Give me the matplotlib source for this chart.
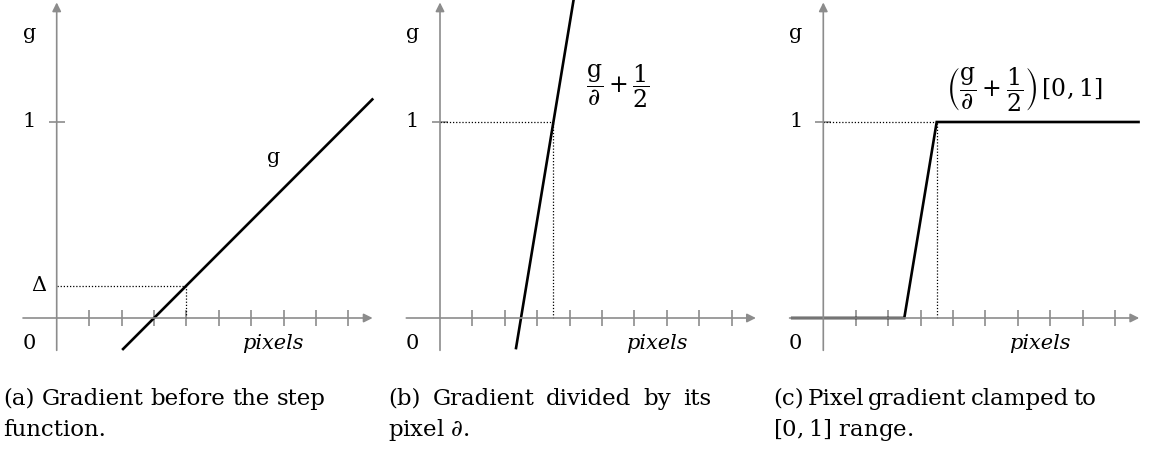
import matplotlib.pyplot as plt
import numpy as np

plt.rcParams["font.family"] = ["DejaVu Serif"]
plt.rcParams["mathtext.fontset"] = "dejavuserif"

W, H = 1150, 451
PX_X = 32.4      # pixels per x unit
PX_Y = 196.0     # pixels per y unit
XLIM = (-1.2, 9.9)
YLIM = (-0.18, 1.62)
ORIGINS = [(56.7, 318.0), (440.0, 318.0), (823.3, 318.0)]

GRAY = "#8c8c8c"
FS = 15
CAP_FS = 16.5

# tick positions along the pixel axis
x_ticks = np.arange(1, 10)

# (a) raw gradient
a_x = [2.02, 9.77]
a_y = [-0.163, 1.12]
delta_x, delta_y = 4.0, 0.165
g_label_xy = (6.68, 0.82)

# (b) gradient divided by its pixel derivative
b_x = [2.34, 4.25]
b_y = [-0.16, 1.75]
b_hit = 3.5
b_label_xy = (5.5, 1.18)

# (c) clamped to [0, 1]
c_x = [-1.0, 2.5, 3.5, 9.77]
c_y = [0.0, 0.0, 1.0, 1.0]
c_label_xy = (6.2, 1.17)

captions = [
    ("(a) Gradient before the step", "function."),
    ("(b) Gradient divided by its", "pixel $\\partial$."),
    ("(c) Pixel gradient clamped to", "$[0, 1]$ range."),
]
caption_x = [3, 388, 773]
CAPTION_W = 323
CAPTION_BASE = [405, 436]

fig = plt.figure(figsize=(W / 100, H / 100), dpi=100)


def make_axes(ox, oy):
    left = ox + XLIM[0] * PX_X
    width = (XLIM[1] - XLIM[0]) * PX_X
    bottom = oy - YLIM[0] * PX_Y
    height = (YLIM[1] - YLIM[0]) * PX_Y
    ax = fig.add_axes([left / W, (H - bottom) / H, width / W, height / H])
    ax.set_xlim(*XLIM)
    ax.set_ylim(*YLIM)
    ax.axis("off")
    return ax


def draw_frame(ax):
    arrow = dict(arrowstyle="-|>", color=GRAY, lw=1.2, mutation_scale=13,
                 shrinkA=0, shrinkB=0)
    ax.annotate("", xy=(9.75, 0), xytext=(-1.04, 0), arrowprops=arrow,
                annotation_clip=False)
    ax.annotate("", xy=(0, 1.61), xytext=(0, -0.165), arrowprops=arrow,
                annotation_clip=False)
    ax.plot(x_ticks, np.zeros_like(x_ticks), ls="none", marker="|",
            ms=11, mew=1.2, color=GRAY)
    ax.plot([0], [1], ls="none", marker="_", ms=11, mew=1.2, color=GRAY)
    ax.text(-0.85, 1.45, "g", fontsize=FS, ha="center", va="center")
    ax.text(-0.85, 1.0, "1", fontsize=FS, ha="center", va="center")
    ax.text(-0.85, -0.13, "0", fontsize=FS, ha="center", va="center")
    ax.text(6.68, -0.13, "pixels", fontsize=FS, style="italic",
            ha="center", va="center")


def justified(x0, y, line):
    # spread the words of a caption line over the full column width
    renderer = fig.canvas.get_renderer()
    words = line.split(" ")
    texts = [fig.text(0, 1 - y / H, w, fontsize=CAP_FS, ha="left",
                      va="baseline") for w in words]
    widths = [t.get_window_extent(renderer).width for t in texts]
    gap = (CAPTION_W - sum(widths)) / (len(words) - 1)
    x = x0
    for t, w in zip(texts, widths):
        t.set_x(x / W)
        x += w + gap


line_kw = dict(color="black", lw=1.9, solid_capstyle="butt",
               solid_joinstyle="miter")
dot_kw = dict(color="black", lw=0.9, ls=(0, (1, 1.5)))

# panel (a)
ax = make_axes(*ORIGINS[0])
draw_frame(ax)
ax.plot([0, delta_x], [delta_y, delta_y], **dot_kw)
ax.plot([delta_x, delta_x], [0, delta_y], **dot_kw)
ax.plot(a_x, a_y, **line_kw)
ax.text(-0.55, delta_y, r"$\Delta$", fontsize=FS, ha="center", va="center")
ax.text(*g_label_xy, "g", fontsize=FS, ha="center", va="center")

# panel (b)
ax = make_axes(*ORIGINS[1])
draw_frame(ax)
ax.plot([0, b_hit], [1, 1], **dot_kw)
ax.plot([b_hit, b_hit], [0, 1], **dot_kw)
ax.plot(b_x, b_y, **line_kw)
ax.text(*b_label_xy, r"$\dfrac{\mathrm{g}}{\partial}+\dfrac{1}{2}$",
        fontsize=FS + 2, ha="center", va="center")

# panel (c)
ax = make_axes(*ORIGINS[2])
draw_frame(ax)
ax.plot([0, c_x[2]], [1, 1], **dot_kw)
ax.plot([c_x[2], c_x[2]], [0, 1], **dot_kw)
ax.plot(c_x, c_y, clip_on=False, **line_kw)
ax.text(*c_label_xy,
        r"$\left(\dfrac{\mathrm{g}}{\partial}+\dfrac{1}{2}\right)\,[0,1]$",
        fontsize=FS + 2, ha="center", va="center")

for x, (first, second) in zip(caption_x, captions):
    justified(x, CAPTION_BASE[0], first)
    fig.text(x / W, 1 - CAPTION_BASE[1] / H, second, fontsize=CAP_FS,
             ha="left", va="baseline")

fig.savefig("out.png", dpi=100)
